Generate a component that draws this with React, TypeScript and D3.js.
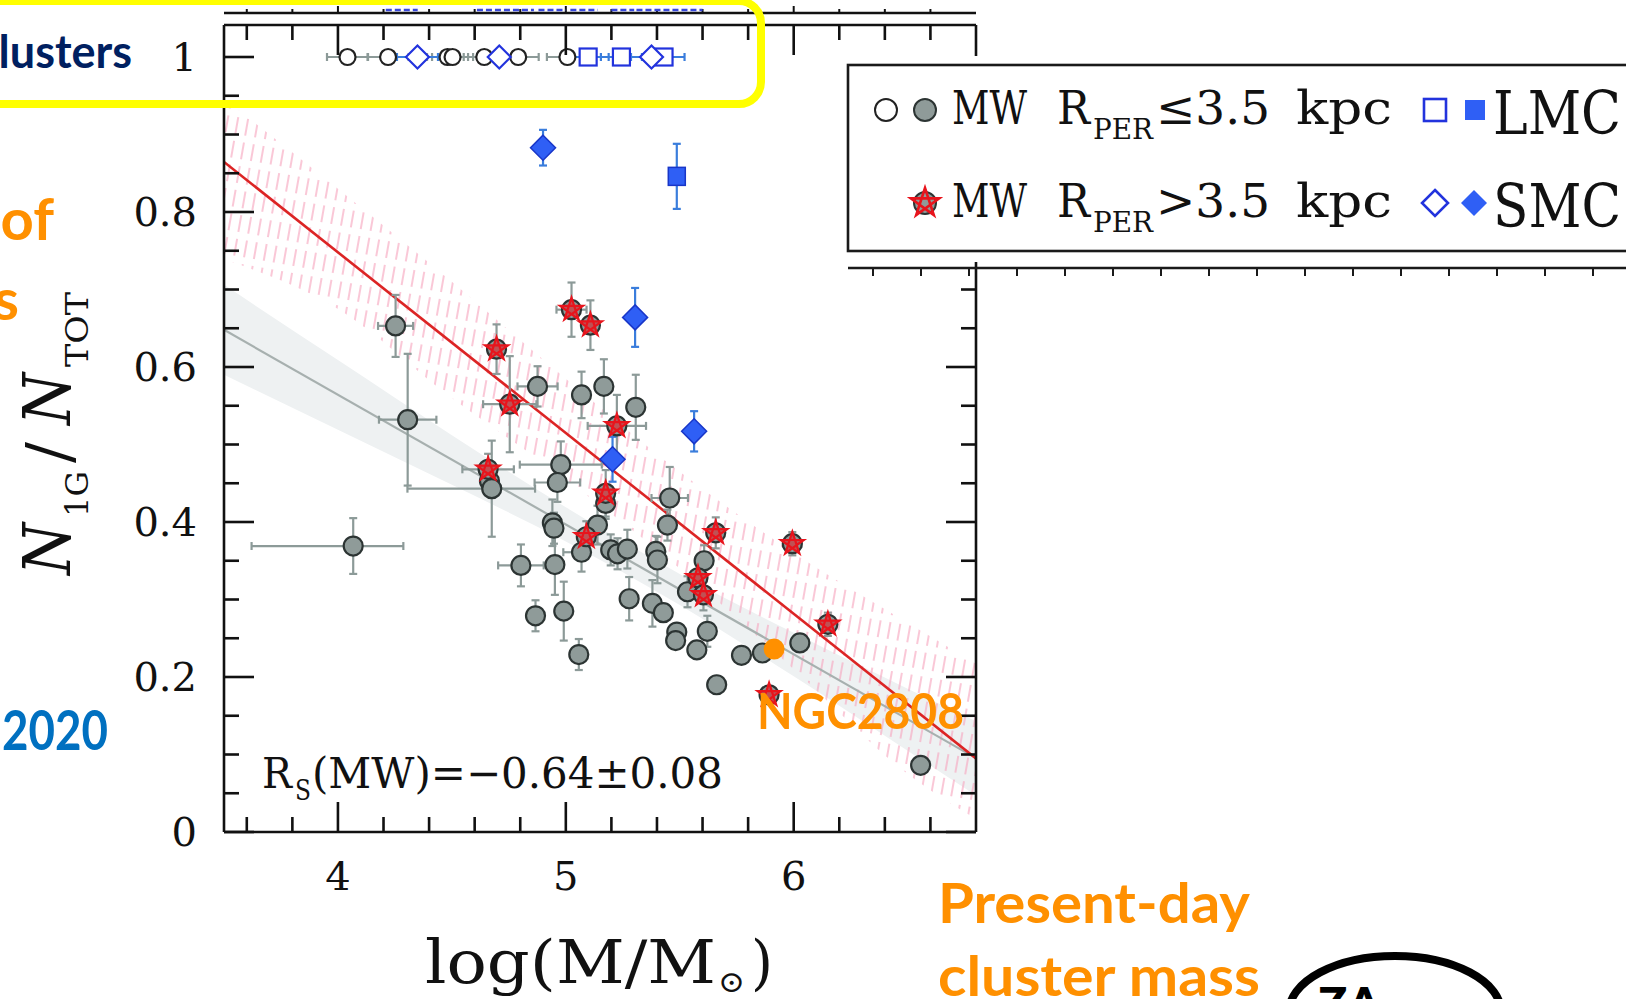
import React from "react";
import * as d3 from "d3";

const W = 1626;
const H = 999;

// Milky Way clusters with pericentre <= 3.5 kpc: [logM, N1G/Ntot, exLow, exHigh, ey]
const mwInner: number[][] = [
  [4.253, 0.653, 0.077, 0.077, 0.04],
  [4.306, 0.532, 0.126, 0.126, 0.085],
  [4.067, 0.369, 0.446, 0.22, 0.036],
  [4.665, 0.453, 0, 0, 0],
  [4.675, 0.443, 0.37, 0.19, 0.062],
  [4.876, 0.575, 0.088, 0.088, 0.026],
  [5.069, 0.564, 0, 0, 0.03],
  [5.167, 0.575, 0, 0, 0.035],
  [5.307, 0.548, 0, 0, 0.042],
  [4.978, 0.474, 0.18, 0.18, 0.03],
  [4.963, 0.451, 0.1, 0.1, 0.025],
  [4.941, 0.399, 0.03, 0.03, 0.03],
  [4.948, 0.392, 0, 0, 0.02],
  [4.803, 0.344, 0.1, 0.1, 0.027],
  [4.952, 0.345, 0, 0, 0.039],
  [5.069, 0.361, 0.08, 0.02, 0.025],
  [4.867, 0.279, 0, 0, 0.02],
  [4.991, 0.285, 0, 0, 0.038],
  [5.057, 0.229, 0, 0, 0.02],
  [5.139, 0.396, 0.03, 0.03, 0.025],
  [5.197, 0.364, 0, 0, 0.02],
  [5.227, 0.359, 0, 0, 0.02],
  [5.27, 0.365, 0.03, 0.03, 0.025],
  [5.395, 0.362, 0.03, 0.03, 0.02],
  [5.402, 0.351, 0, 0, 0.03],
  [5.446, 0.396, 0, 0, 0.02],
  [5.456, 0.431, 0.08, 0.08, 0.04],
  [5.175, 0.424, 0, 0, 0.02],
  [5.607, 0.35, 0, 0, 0.02],
  [5.534, 0.31, 0, 0, 0.02],
  [5.278, 0.301, 0, 0, 0.028],
  [5.38, 0.295, 0, 0, 0.03],
  [5.428, 0.283, 0, 0, 0],
  [5.487, 0.258, 0, 0, 0],
  [5.482, 0.247, 0, 0, 0],
  [5.621, 0.259, 0, 0, 0.02],
  [5.575, 0.235, 0, 0, 0],
  [5.771, 0.228, 0, 0, 0],
  [5.863, 0.231, 0, 0, 0],
  [6.027, 0.244, 0, 0, 0],
  [5.662, 0.19, 0, 0, 0],
  [6.557, 0.086, 0, 0, 0],
];

// Milky Way clusters with pericentre > 3.5 kpc: [logM, N1G/Ntot, ex, ey]
const mwOuter: number[][] = [
  [4.696, 0.623, 0.02, 0.032],
  [5.025, 0.674, 0.066, 0.035],
  [5.108, 0.654, 0.02, 0.032],
  [4.754, 0.552, 0.117, 0.062],
  [5.224, 0.524, 0.128, 0.04],
  [4.659, 0.468, 0.113, 0.02],
  [5.09, 0.381, 0.02, 0.02],
  [5.175, 0.437, 0.02, 0.03],
  [5.658, 0.386, 0.03, 0.02],
  [5.994, 0.372, 0.04, 0.015],
  [5.58, 0.328, 0.02, 0.02],
  [5.604, 0.306, 0.02, 0.02],
  [6.15, 0.268, 0.02, 0.015],
  [5.892, 0.177, 0.02, 0.01],
];

// Magellanic Cloud clusters: [logM, N1G/Ntot, ey]
const smcFilled: number[][] = [
  [4.9, 0.883, 0.023],
  [5.304, 0.664, 0.038],
  [5.205, 0.481, 0.029],
  [5.563, 0.517, 0.026],
];
const lmcFilled: number[][] = [[5.487, 0.846, 0.042]];

// Simple-population clusters (N1G/Ntot = 1): logM values
const onePopMW = [4.042, 4.22, 4.481, 4.503, 4.642, 4.791, 5.007];
const onePopSMC = [4.349, 4.708, 5.376];
const onePopLMC = [5.098, 5.244, 5.431];
const onePopErr = 0.09;

const ngc2808 = { name: "NGC2808", logM: 5.914, ratio: 0.236 };

// Least-squares fits and their uncertainty bands
const bandX = [3.5, 4.0, 4.5, 5.0, 5.5, 6.0, 6.5, 6.8];
const redFitX = [3.5, 6.8];
const redFitY = [0.8646, 0.095];
const redBandHi = [0.946, 0.83, 0.71, 0.585, 0.465, 0.36, 0.27, 0.217];
const redBandLo = [0.739, 0.675, 0.56, 0.455, 0.34, 0.21, 0.075, 0.017];
const grayFitX = [3.5, 6.8];
const grayFitY = [0.648, 0.0953];
const grayBandHi = [0.706, 0.609, 0.512, 0.419, 0.333, 0.257, 0.185, 0.143];
const grayBandLo = [0.59, 0.519, 0.448, 0.375, 0.293, 0.201, 0.105, 0.047];

// Fragments of the panel above (logM ranges)
const upperPanelMarks: number[][] = [
  [4.21, 4.35],
  [4.61, 4.86],
  [4.88, 5.0],
  [5.02, 5.14],
  [5.2, 5.3],
  [5.31, 5.6],
];

const yTickLabels = ["0", "0.2", "0.4", "0.6", "0.8", "1"];
const xTickLabels = ["4", "5", "6"];

const SERIF = "'DejaVu Serif', 'Liberation Serif', serif";
const SANS = "Lato, 'Open Sans', 'Noto Sans', sans-serif";
const ORANGE = "#ff9000";

const C_GRAY_FILL = "#8f9b99";
const C_GRAY_EDGE = "#2c3433";
const C_ERR = "#8c9a98";
const C_BLUE = "#2f5ff5";
const C_BLUE_EDGE = "#1836c8";
const C_BLUE_ERR = "#3a7ddc";
const C_RED = "#e8141c";

function pentagram(cx: number, cy: number, R: number) {
  const pts = d3.range(5).map((k) => {
    const a = ((-90 + k * 72) * Math.PI) / 180;
    return [cx + R * Math.cos(a), cy + R * Math.sin(a)];
  });
  return "M" + [0, 2, 4, 1, 3].map((i) => pts[i].join(",")).join("L") + "Z";
}

function diamond(cx: number, cy: number, h: number) {
  return `M${cx},${cy - h}L${cx + h},${cy}L${cx},${cy + h}L${cx - h},${cy}Z`;
}

function ErrBar({
  x0, x1, y0, y1, cx, cy, color,
}: { x0: number; x1: number; y0: number; y1: number; cx: number; cy: number; color: string }) {
  const cap = 4;
  return (
    <g stroke={color} strokeWidth={2.2} fill="none">
      {x1 - x0 > 0.5 && (
        <>
          <line x1={x0} y1={cy} x2={x1} y2={cy} />
          <line x1={x0} y1={cy - cap} x2={x0} y2={cy + cap} />
          <line x1={x1} y1={cy - cap} x2={x1} y2={cy + cap} />
        </>
      )}
      {y1 - y0 > 0.5 && (
        <>
          <line x1={cx} y1={y0} x2={cx} y2={y1} />
          <line x1={cx - cap} y1={y0} x2={cx + cap} y2={y0} />
          <line x1={cx - cap} y1={y1} x2={cx + cap} y2={y1} />
        </>
      )}
    </g>
  );
}

export default function App() {
  const left = 224, right = 976, top = 25, bottom = 832;
  const x = d3.scaleLinear().domain([3.5, 6.8]).range([left, right]);
  const y = d3.scaleLinear().domain([0, 1.0413]).range([bottom, top]);

  const bandArea = (hi: number[], lo: number[]) =>
    d3
      .area<number>()
      .x((_, i) => x(bandX[i]))
      .y0((_, i) => y(lo[i]))
      .y1((_, i) => y(hi[i]))
      .curve(d3.curveMonotoneX)(bandX) as string;

  const fitLine = (xs: number[], ys: number[]) =>
    d3
      .line<number>()
      .x((d) => x(d))
      .y((_, i) => y(ys[i]))(xs) as string;

  const yMinor = d3.range(0, 1.0001, 0.05);
  const xMinor = d3.range(3.6, 6.7, 0.2);
  const isMajorY = (v: number) => Math.abs(v * 5 - Math.round(v * 5)) < 1e-6;
  const isMajorX = (v: number) => Math.abs(v - Math.round(v)) < 1e-6;

  const legendTop = 56, legendBottom = 262;

  return (
    <svg
      width={W}
      height={H}
      viewBox={`0 0 ${W} ${H}`}
      style={{ position: "fixed", left: 0, top: 0, background: "#fff" }}
    >
      <defs>
        <clipPath id="plotClip">
          <rect x={left} y={top} width={right - left} height={bottom - top} />
        </clipPath>
        <pattern
          id="pinkHatch"
          patternUnits="userSpaceOnUse"
          width={10}
          height={24}
          patternTransform="rotate(10)"
        >
          <line x1={5} y1={2} x2={5} y2={19} stroke="#f6a8c0" strokeWidth={1.4} />
        </pattern>
      </defs>
      <rect x={0} y={0} width={W} height={H} fill="#fff" />

      {/* fit bands and lines */}
      <g clipPath="url(#plotClip)">
        <path d={bandArea(grayBandHi, grayBandLo)} fill="#eef1f2" />
        <path d={bandArea(redBandHi, redBandLo)} fill="url(#pinkHatch)" opacity={0.9} />
        <path d={fitLine(grayFitX, grayFitY)} stroke="#a7b0af" strokeWidth={2.2} fill="none" />
        <path d={fitLine(redFitX, redFitY)} stroke="#dc2424" strokeWidth={2.6} fill="none" />
      </g>

      {/* error bars */}
      <g>
        {mwInner.map((d, i) => (
          <ErrBar
            key={"ei" + i}
            cx={x(d[0])}
            cy={y(d[1])}
            x0={x(d[0] - d[2])}
            x1={x(d[0] + d[3])}
            y0={y(d[1] + d[4])}
            y1={y(d[1] - d[4])}
            color={C_ERR}
          />
        ))}
        {mwOuter.map((d, i) => (
          <ErrBar
            key={"eo" + i}
            cx={x(d[0])}
            cy={y(d[1])}
            x0={x(d[0] - d[2])}
            x1={x(d[0] + d[2])}
            y0={y(d[1] + d[3])}
            y1={y(d[1] - d[3])}
            color={C_ERR}
          />
        ))}
        {[...smcFilled, ...lmcFilled].map((d, i) => (
          <ErrBar
            key={"em" + i}
            cx={x(d[0])}
            cy={y(d[1])}
            x0={x(d[0])}
            x1={x(d[0])}
            y0={y(d[1] + d[2])}
            y1={y(d[1] - d[2])}
            color={C_BLUE_ERR}
          />
        ))}
        {onePopMW.map((v, i) => (
          <ErrBar
            key={"e1" + i}
            cx={x(v)}
            cy={y(1)}
            x0={x(v - onePopErr)}
            x1={x(v + onePopErr)}
            y0={y(1)}
            y1={y(1)}
            color={C_ERR}
          />
        ))}
        {[...onePopSMC, ...onePopLMC].map((v, i) => (
          <ErrBar
            key={"e2" + i}
            cx={x(v)}
            cy={y(1)}
            x0={x(v - onePopErr)}
            x1={x(v + onePopErr)}
            y0={y(1)}
            y1={y(1)}
            color={C_BLUE_ERR}
          />
        ))}
      </g>

      {/* N1G/Ntot = 1 clusters */}
      <g fill="#fff" strokeWidth={2.2}>
        {onePopMW.map((v, i) => (
          <circle key={"o" + i} cx={x(v)} cy={y(1)} r={8} stroke="#222" />
        ))}
        {onePopLMC.map((v, i) => (
          <rect key={"l" + i} x={x(v) - 8.5} y={y(1) - 8.5} width={17} height={17} stroke="#2233dd" />
        ))}
        {onePopSMC.map((v, i) => (
          <path key={"s" + i} d={diamond(x(v), y(1), 11.5)} stroke="#2233dd" />
        ))}
      </g>

      {/* Milky Way clusters */}
      <g fill={C_GRAY_FILL} stroke={C_GRAY_EDGE} strokeWidth={2.2}>
        {mwInner.map((d, i) => (
          <circle key={"c" + i} cx={x(d[0])} cy={y(d[1])} r={9.5} />
        ))}
      </g>
      <g>
        {mwOuter.map((d, i) => (
          <g key={"st" + i}>
            <circle cx={x(d[0])} cy={y(d[1])} r={9.5} fill={C_GRAY_FILL} stroke={C_GRAY_EDGE} strokeWidth={2.2} />
            <path
              d={pentagram(x(d[0]), y(d[1]), 12)}
              fill={C_RED}
              fillOpacity={0.55}
              stroke={C_RED}
              strokeWidth={2.2}
            />
          </g>
        ))}
      </g>

      {/* Magellanic Clouds */}
      <g fill={C_BLUE} stroke={C_BLUE_EDGE} strokeWidth={1.5}>
        {smcFilled.map((d, i) => (
          <path key={"sf" + i} d={diamond(x(d[0]), y(d[1]), 12.5)} />
        ))}
        {lmcFilled.map((d, i) => (
          <rect key={"lf" + i} x={x(d[0]) - 8.5} y={y(d[1]) - 9} width={17} height={18} />
        ))}
      </g>

      {/* NGC 2808 highlight */}
      <circle cx={x(ngc2808.logM)} cy={y(ngc2808.ratio)} r={10.5} fill={ORANGE} />

      {/* axes frame and ticks */}
      <g stroke="#111" strokeWidth={2.6} fill="none">
        <line x1={left} y1={top} x2={left} y2={bottom} />
        <line x1={left} y1={bottom} x2={right} y2={bottom} />
        <line x1={left} y1={top} x2={right} y2={top} />
        <line x1={right} y1={top} x2={right} y2={legendTop} />
        <line x1={right} y1={legendBottom} x2={right} y2={bottom} />
        {yMinor.map((v, i) => {
          const len = isMajorY(v) ? 30 : 15;
          const yy = y(v);
          return (
            <g key={"yt" + i}>
              <line x1={left} y1={yy} x2={left + len} y2={yy} />
              {yy > legendBottom + 2 && <line x1={right} y1={yy} x2={right - len} y2={yy} />}
            </g>
          );
        })}
        {xMinor.map((v, i) => {
          const len = isMajorX(v) ? 30 : 15;
          const xx = x(v);
          return (
            <g key={"xt" + i}>
              <line x1={xx} y1={bottom} x2={xx} y2={bottom - len} />
              <line x1={xx} y1={top} x2={xx} y2={top + len} />
              <line x1={xx} y1={13} x2={xx} y2={isMajorX(v) ? 6 : 9} strokeWidth={2} />
            </g>
          );
        })}
        <line x1={left} y1={13} x2={right} y2={13} strokeWidth={2.4} />
      </g>
      <g stroke="#3848d8" strokeWidth={2.4} strokeDasharray="6 3">
        {upperPanelMarks.map((m, i) => (
          <line key={"um" + i} x1={x(m[0])} y1={10} x2={x(m[1])} y2={10} />
        ))}
      </g>

      {/* tick labels */}
      <g fontFamily={SERIF} fontSize={40} fill="#111">
        {yTickLabels.map((t) => (
          <text key={"yl" + t} x={197} y={y(+t) + 14} textAnchor="end">
            {t}
          </text>
        ))}
        {xTickLabels.map((t) => (
          <text key={"xl" + t} x={x(+t)} y={890} textAnchor="middle">
            {t}
          </text>
        ))}
      </g>

      {/* axis titles */}
      <g fontFamily={SERIF} fill="#111">
        <text x={425} y={983} fontSize={60} textLength={291} lengthAdjust="spacingAndGlyphs">
          log(M/M
        </text>
        <text x={718} y={992} fontSize={30} textLength={27} lengthAdjust="spacingAndGlyphs">
          ⊙
        </text>
        <text x={751} y={983} fontSize={60} textLength={22} lengthAdjust="spacingAndGlyphs">
          )
        </text>
        <g transform="translate(0,575) rotate(-90)">
          <text x={0} y={70} fontSize={66} fontStyle="italic" textLength={52} lengthAdjust="spacingAndGlyphs">
            N
          </text>
          <text x={58} y={88} fontSize={32} textLength={46} lengthAdjust="spacingAndGlyphs">
            1G
          </text>
          <text x={112} y={70} fontSize={62}>
            /
          </text>
          <text x={150} y={70} fontSize={66} fontStyle="italic" textLength={52} lengthAdjust="spacingAndGlyphs">
            N
          </text>
          <text x={208} y={88} fontSize={32} textLength={75} lengthAdjust="spacingAndGlyphs">
            TOT
          </text>
        </g>
        {/* Spearman coefficient */}
        <text x={262} y={788} fontSize={43} textLength={30} lengthAdjust="spacingAndGlyphs">
          R
        </text>
        <text x={295} y={800} fontSize={28} textLength={16} lengthAdjust="spacingAndGlyphs">
          S
        </text>
        <text x={312} y={788} fontSize={43} textLength={411} lengthAdjust="spacingAndGlyphs">
          (MW)=−0.64±0.08
        </text>
      </g>

      {/* legend */}
      <g>
        <rect x={838} y={legendTop} width={W - 838} height={legendBottom - legendTop} fill="#fff" />
        <rect x={848} y={65} width={W} height={186} fill="#fff" stroke="#1a1a1a" strokeWidth={2.6} />
        <line x1={848} y1={268} x2={W} y2={268} stroke="#1a1a1a" strokeWidth={2.4} />
        {d3.range(873, W, 48).map((tx) => (
          <line key={"lt" + tx} x1={tx} y1={268} x2={tx} y2={276} stroke="#1a1a1a" strokeWidth={2} />
        ))}
        <circle cx={886} cy={110} r={11} fill="#fff" stroke="#222" strokeWidth={2} />
        <circle cx={925} cy={110} r={11} fill={C_GRAY_FILL} stroke={C_GRAY_EDGE} strokeWidth={2} />
        <circle cx={925} cy={203} r={11} fill={C_GRAY_FILL} stroke={C_GRAY_EDGE} strokeWidth={2} />
        <path d={pentagram(925, 203, 15)} fill="none" stroke={C_RED} strokeWidth={2.6} />
        <rect x={1424} y={99} width={22} height={22} fill="#fff" stroke="#2233dd" strokeWidth={2.6} />
        <rect x={1465} y={100} width={20} height={20} fill={C_BLUE} />
        <path d={diamond(1435, 203, 13)} fill="#fff" stroke="#2233dd" strokeWidth={2.6} />
        <path d={diamond(1474, 203, 13)} fill={C_BLUE} />
        <g fontFamily={SERIF} fill="#111">
          {[
            { base: 124, rel: "≤3.5", cloud: "LMC" },
            { base: 217, rel: ">3.5", cloud: "SMC" },
          ].map((r) => (
            <g key={r.cloud}>
              <text x={952} y={r.base} fontSize={46} textLength={75} lengthAdjust="spacingAndGlyphs">
                MW
              </text>
              <text x={1057} y={r.base} fontSize={46} textLength={33} lengthAdjust="spacingAndGlyphs">
                R
              </text>
              <text x={1093} y={r.base + 15} fontSize={28} textLength={60} lengthAdjust="spacingAndGlyphs">
                PER
              </text>
              <text x={1156} y={r.base} fontSize={46} textLength={114} lengthAdjust="spacingAndGlyphs">
                {r.rel}
              </text>
              <text x={1296} y={r.base} fontSize={46} textLength={96} lengthAdjust="spacingAndGlyphs">
                kpc
              </text>
              <text x={1493} y={r.base + 10} fontSize={60} textLength={128} lengthAdjust="spacingAndGlyphs">
                {r.cloud}
              </text>
            </g>
          ))}
        </g>
      </g>

      {/* slide annotations */}
      <rect x={-40} y={1} width={801} height={103} rx={22} fill="none" stroke="#ffff00" strokeWidth={8} />
      <g fontFamily={SANS} fontWeight={700}>
        <text x={132} y={68} fontSize={45} fill="#002060" textAnchor="end">
          Clusters
        </text>
        <text x={54} y={240} fontSize={58} fill={ORANGE} textAnchor="end">
          of
        </text>
        <text x={19} y={320} fontSize={58} fill={ORANGE} textAnchor="end">
          s
        </text>
        <text x={2} y={750} fontSize={56} fill="#0070c0" textLength={106} lengthAdjust="spacingAndGlyphs">
          2020
        </text>
        <text x={757} y={729} fontSize={50} fill={ORANGE} textLength={207} lengthAdjust="spacingAndGlyphs">
          {ngc2808.name}
        </text>
        <text x={938} y={923} fontSize={55} fill={ORANGE} textLength={312} lengthAdjust="spacingAndGlyphs">
          Present-day
        </text>
        <text x={938} y={996} fontSize={55} fill={ORANGE} textLength={322} lengthAdjust="spacingAndGlyphs">
          cluster mass
        </text>
      </g>

      {/* institute logo, cut by the page edge */}
      <g>
        <ellipse cx={1395} cy={1012} rx={106} ry={56} fill="none" stroke="#000" strokeWidth={8} />
        <text x={1318} y={1022} fontFamily={SANS} fontWeight={900} fontSize={48} fill="#000">
          ZA
        </text>
      </g>
    </svg>
  );
}
